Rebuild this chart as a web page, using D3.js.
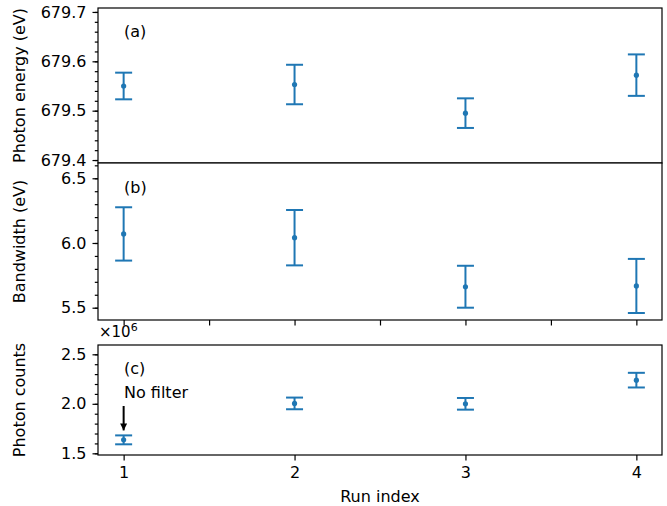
<!DOCTYPE html>
<html>
<head>
<meta charset="utf-8">
<script src="https://cdn.jsdelivr.net/npm/d3@7"></script>
<style>
  body { margin: 0; background: #fff; }
  svg { display: block; font-family: "DejaVu Sans", sans-serif; }
</style>
</head>
<body>
<svg id="chart" width="667" height="506"></svg>
<script>
// ---- data ----
const runs = [1, 2, 3, 4];
const energy = [679.550, 679.553, 679.495, 679.572];
const energyErr = [0.027, 0.040, 0.030, 0.042];
const bandwidth = [6.070, 6.041, 5.662, 5.668];
const bandwidthErr = [0.206, 0.214, 0.162, 0.209];
const counts = [1.636e6, 2.004e6, 2.000e6, 2.239e6];
const countsErr = [0.045e6, 0.059e6, 0.059e6, 0.074e6];
const energyTicks = [679.4, 679.5, 679.6, 679.7];
const bandwidthTicks = [5.5, 6.0, 6.5];
const countsTicks = [1.5e6, 2.0e6, 2.5e6];
const runTicks = [1, 2, 3, 4];
const runMinorTicks = [1, 1.5, 2, 2.5, 3, 3.5, 4];
const panelLabels = ["(a)", "(b)", "(c)"];
const yLabels = ["Photon energy (eV)", "Bandwidth (eV)", "Photon counts"];
const xLabel = "Run index";
const annotationText = "No filter";

const color = "#1f77b4";
const svg = d3.select("#chart");
const left = 98, right = 662;
const FS = 16;

const x = d3.scaleLinear().domain([0.85, 4.15]).range([left, right]);

const panels = [
  { top: 8, bottom: 163, domain: [679.394, 679.708], vals: energy, errs: energyErr,
    ticks: energyTicks, minorStep: 0.02, fmt: d => d.toFixed(1), label: panelLabels[0], ylabel: yLabels[0], labelY: 37,
    xticks: null },
  { top: 163, bottom: 320, domain: [5.405, 6.618], vals: bandwidth, errs: bandwidthErr,
    ticks: bandwidthTicks, minorStep: 0.1, fmt: d => d.toFixed(1), label: panelLabels[1], ylabel: yLabels[1], labelY: 193,
    xticks: runMinorTicks, xlabels: false },
  { top: 345, bottom: 455, domain: [1.483e6, 2.594e6], vals: counts, errs: countsErr,
    ticks: countsTicks, minorStep: 0.1e6, fmt: d => (d / 1e6).toFixed(1), label: panelLabels[2], ylabel: yLabels[2], labelY: 374,
    xticks: runTicks, xlabels: true }
];

function styleAxis(g) {
  g.select(".domain").remove();
  g.selectAll(".tick line").attr("stroke", "#000").attr("stroke-width", 1.2);
  g.selectAll(".tick text").attr("fill", "#000").style("font-size", FS + "px").style("font-family", "DejaVu Sans, sans-serif");
}

panels.forEach((p, i) => {
  const y = d3.scaleLinear().domain(p.domain).range([p.bottom, p.top]);
  const g = svg.append("g");

  g.append("rect").attr("x", left).attr("y", p.top).attr("width", right - left).attr("height", p.bottom - p.top)
    .attr("fill", "#fff");

  // minor y ticks
  const lo = Math.ceil(p.domain[0] / p.minorStep - 1e-6), hi = Math.floor(p.domain[1] / p.minorStep + 1e-6);
  const minor = d3.range(lo, hi + 1).map(k => k * p.minorStep);
  g.append("g").attr("transform", `translate(${left},0)`)
    .call(d3.axisLeft(y).tickValues(minor).tickSize(3.2).tickFormat(""))
    .call(styleAxis);
  // major y ticks
  g.append("g").attr("transform", `translate(${left},0)`)
    .call(d3.axisLeft(y).tickValues(p.ticks).tickSize(5.5).tickPadding(6).tickFormat(p.fmt))
    .call(styleAxis);

  // x ticks
  if (p.xticks) {
    const ax = d3.axisBottom(x).tickValues(p.xticks).tickSize(5.5).tickPadding(6);
    if (!p.xlabels) ax.tickFormat("");
    else ax.tickFormat(d3.format("d"));
    g.append("g").attr("transform", `translate(0,${p.bottom})`).call(ax).call(styleAxis);
  }

  // error bars
  const eb = g.append("g").attr("stroke", color).attr("stroke-width", 2).attr("fill", "none");
  runs.forEach((r, j) => {
    const cx = x(r), y1 = y(p.vals[j] + p.errs[j]), y2 = y(p.vals[j] - p.errs[j]);
    eb.append("line").attr("x1", cx).attr("x2", cx).attr("y1", y1).attr("y2", y2);
    eb.append("line").attr("x1", cx - 8.5).attr("x2", cx + 8.5).attr("y1", y1).attr("y2", y1);
    eb.append("line").attr("x1", cx - 8.5).attr("x2", cx + 8.5).attr("y1", y2).attr("y2", y2);
  });
  g.append("g").selectAll("circle").data(runs).join("circle")
    .attr("cx", d => x(d)).attr("cy", (d, j) => y(p.vals[j])).attr("r", 2.6).attr("fill", color);

  // frame
  g.append("rect").attr("x", left).attr("y", p.top).attr("width", right - left).attr("height", p.bottom - p.top)
    .attr("fill", "none").attr("stroke", "#000").attr("stroke-width", 1.2);

  // panel label
  g.append("text").attr("x", 124).attr("y", p.labelY).attr("font-size", FS).text(p.label);

  // y label
  g.append("text").attr("transform", `translate(25,${(p.top + p.bottom) / 2}) rotate(-90)`)
    .attr("text-anchor", "middle").attr("font-size", FS).text(p.ylabel);

  p.y = y;
});

// offset text x10^6
const off = svg.append("text").attr("x", 99).attr("y", 337).attr("font-size", 15);
off.append("tspan").text("×10");
off.append("tspan").attr("dy", -6).attr("font-size", 11).text("6");

// annotation
const pc = panels[2];
svg.append("text").attr("x", 124).attr("y", 398).attr("font-size", FS).text(annotationText);
svg.append("defs").append("marker").attr("id", "arrowhead").attr("viewBox", "0 0 10 10")
  .attr("refX", 10).attr("refY", 5).attr("markerWidth", 4).attr("markerHeight", 3.5)
  .attr("markerUnits", "strokeWidth").attr("orient", "auto")
  .append("path").attr("d", "M0,0 L10,5 L0,10 Z").attr("fill", "#000");
svg.append("line").attr("x1", x(1)).attr("x2", x(1)).attr("y1", 406)
  .attr("y2", pc.y(counts[0] + countsErr[0]) - 5)
  .attr("stroke", "#000").attr("stroke-width", 2).attr("marker-end", "url(#arrowhead)");

// x label
svg.append("text").attr("x", (left + right) / 2).attr("y", 501.5).attr("text-anchor", "middle")
  .attr("font-size", FS).text(xLabel);
</script>
</body>
</html>
